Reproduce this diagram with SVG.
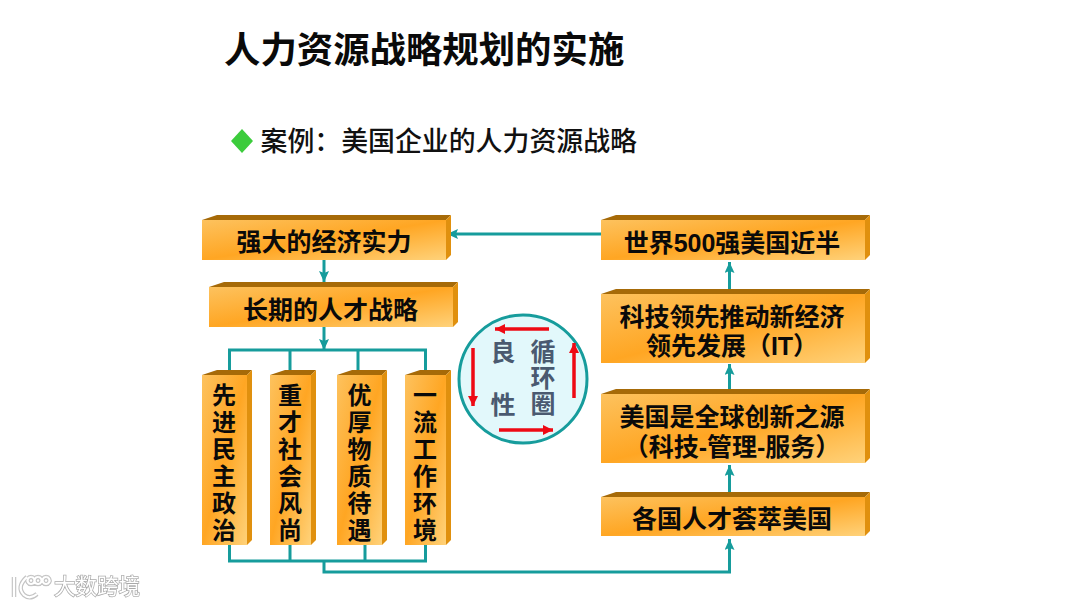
<svg xmlns="http://www.w3.org/2000/svg" width="1080" height="607" viewBox="0 0 1080 607">
<style>
text{font-family:"Liberation Sans","Noto Sans CJK SC",sans-serif}
.t{font-size:25px;font-weight:700;fill:#0a0a0a;text-anchor:middle}
.v{font-size:24px;font-weight:700;fill:#0a0a0a;writing-mode:vertical-rl;letter-spacing:3px}
.c{font-size:25px;font-weight:700;fill:#4a5a70;text-anchor:middle}
.cv{font-size:25px;font-weight:700;fill:#4a5a70;writing-mode:vertical-rl;letter-spacing:1px}
.f{fill:url(#g)}.top{fill:#a66a08}.side{fill:#e0900e}
.l{fill:none;stroke:#169c9c;stroke-width:3}
.r{fill:none;stroke:#ee0a14;stroke-width:3.500}
</style>
<defs>
<linearGradient id="g" x1="0" y1="0" x2="1" y2="1"><stop offset="0" stop-color="#fdc25e"/><stop offset=".5" stop-color="#ffa623"/><stop offset="1" stop-color="#ffd27a"/></linearGradient>
<marker id="a" markerUnits="userSpaceOnUse" markerWidth="12" markerHeight="12" refX="11" refY="5" orient="auto"><path d="M0 0L11 5L0 10L2 5Z" fill="#169c9c"/></marker>
<marker id="b" markerUnits="userSpaceOnUse" markerWidth="12" markerHeight="12" refX="10" refY="5" orient="auto"><path d="M0 0L10 5L0 10Z" fill="#ee0a14"/></marker>
<filter id="blur"><feGaussianBlur stdDeviation="0.5"/></filter>
</defs>
<rect width="1080" height="607" fill="#fff"/>
<text x="224" y="63" style="font-size:36.400px;font-weight:700" fill="#0a0a0a">人力资源战略规划的实施</text>
<path d="M242 129L253 141L242 153L231 141Z" fill="#3ccc3c"/>
<text x="260.500" y="151" style="font-size:26.900px;font-weight:500" fill="#111">案例：美国企业的人力资源战略</text>

<g id="connectors">
<path class="l" d="M602 234H447" marker-end="url(#a)"/>
<path class="l" d="M324 260V282" marker-end="url(#a)"/>
<path class="l" d="M324 327V350" marker-end="url(#a)"/>
<path class="l" d="M229.500 372V350H425.500V372M290 350V372M358 350V372"/>
<path class="l" d="M229.500 545V561H425.500V545M290 545V561M365 545V561"/>
<path class="l" d="M324 561V572H729.500V539" marker-end="url(#a)"/>
<path class="l" d="M729.500 492V465" marker-end="url(#a)"/>
<path class="l" d="M729.500 389V364" marker-end="url(#a)"/>
<path class="l" d="M729.500 289V262" marker-end="url(#a)"/>
</g>

<g id="n1"><path class="top" d="M202 220L217 215H451L446 220Z"/><path class="side" d="M446 220L451 215V255L446 260Z"/><rect class="f" x="202" y="220" width="244" height="40"/><text class="t" x="324" y="251">强大的经济实力</text></g>
<g id="n2"><path class="top" d="M209 287L224 282H458L453 287Z"/><path class="side" d="M453 287L458 282V322L453 327Z"/><rect class="f" x="209" y="287" width="244" height="40"/><text class="t" x="330.500" y="319">长期的人才战略</text></g>

<g id="v1"><path class="top" d="M202 375L217 370H252L247 375Z"/><path class="side" d="M247 375L252 370V540L247 545Z"/><rect class="f" x="202" y="375" width="45" height="170"/><text class="v" x="222" y="383">先进民主政治</text></g>
<g id="v2"><path class="top" d="M270 375L285 370H316L311 375Z"/><path class="side" d="M311 375L316 370V540L311 545Z"/><rect class="f" x="270" y="375" width="41" height="170"/><text class="v" x="288" y="383">重才社会风尚</text></g>
<g id="v3"><path class="top" d="M337 375L352 370H387L382 375Z"/><path class="side" d="M382 375L387 370V540L382 545Z"/><rect class="f" x="337" y="375" width="45" height="170"/><text class="v" x="357.500" y="383">优厚物质待遇</text></g>
<g id="v4"><path class="top" d="M405 375L420 370H451L446 375Z"/><path class="side" d="M446 375L451 370V540L446 545Z"/><rect class="f" x="405" y="375" width="41" height="170"/><text class="v" x="423" y="383">一流工作环境</text></g>

<g id="cycle">
<circle cx="523" cy="379" r="64" fill="#e2f8fb" stroke="#169c9c" stroke-width="3"/>
<path class="r" d="M549 329H495" marker-end="url(#b)"/>
<path class="r" d="M574 398V343" marker-end="url(#b)"/>
<path class="r" d="M499 430H553" marker-end="url(#b)"/>
<path class="r" d="M473 348V406" marker-end="url(#b)"/>
<text class="c" x="503" y="361">良</text>
<text class="c" x="503" y="414">性</text>
<text class="cv" x="541" y="339">循环圈</text>
</g>

<g id="r1"><path class="top" d="M601 220L616 215H870L865 220Z"/><path class="side" d="M865 220L870 215V255L865 260Z"/><rect class="f" x="601" y="220" width="264" height="40"/><text class="t" x="732" y="252">世界500强美国近半</text></g>
<g id="r2"><path class="top" d="M601 294L616 289H870L865 294Z"/><path class="side" d="M865 294L870 289V358L865 363Z"/><rect class="f" x="601" y="294" width="264" height="69"/><text class="t" x="732" y="326">科技领先推动新经济</text><text class="t" x="732" y="355">领先发展（IT）</text></g>
<g id="r3"><path class="top" d="M601 394L616 389H870L865 394Z"/><path class="side" d="M865 394L870 389V458L865 463Z"/><rect class="f" x="601" y="394" width="264" height="69"/><text class="t" x="732" y="426">美国是全球创新之源</text><text class="t" x="732" y="456">（科技-管理-服务）</text></g>
<g id="r4"><path class="top" d="M601 497L616 492H870L865 497Z"/><path class="side" d="M865 497L870 492V531L865 536Z"/><rect class="f" x="601" y="497" width="264" height="39"/><text class="t" x="732" y="528">各国人才荟萃美国</text></g>

<g id="watermark" filter="url(#blur)">
<path d="M14 577V597M27 577Q16 587 24 595Q30 600 37 594M31 577a3.500 3.500 0 1 0 .1 0M38 577a3.500 3.500 0 1 0 .1 0M46 577a3.500 3.500 0 1 0 .1 0" fill="none" stroke="#c4c4c4" stroke-width="4.500"/>
<path d="M14 577V597M27 577Q16 587 24 595Q30 600 37 594M31 577a3.500 3.500 0 1 0 .1 0M38 577a3.500 3.500 0 1 0 .1 0M46 577a3.500 3.500 0 1 0 .1 0" fill="none" stroke="#fff" stroke-width="2.200"/>
<text x="54" y="594" style="font-size:21.500px" fill="#fff" stroke="#aaa" stroke-width="1.500" paint-order="stroke">大数跨境</text>
</g>
</svg>
